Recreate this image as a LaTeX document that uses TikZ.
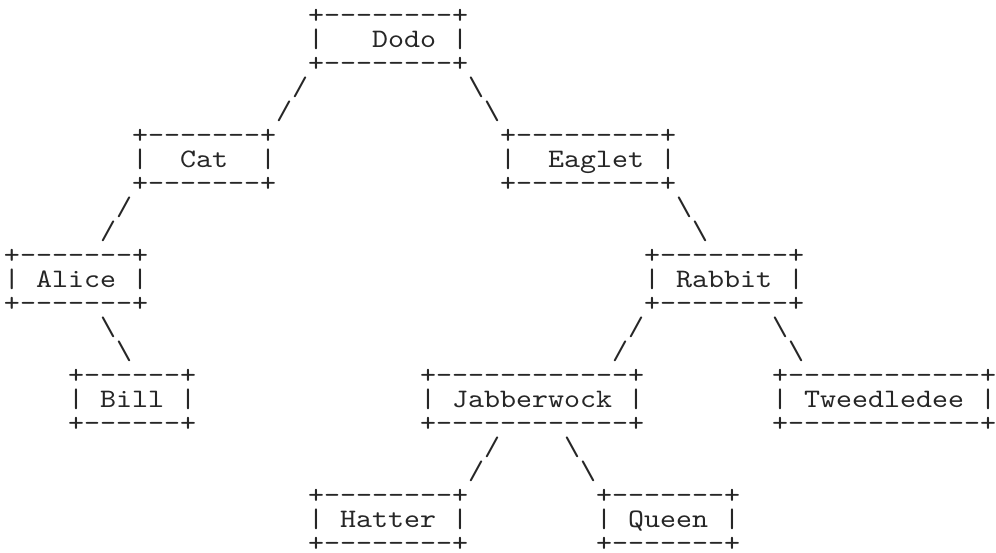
\documentclass[tikz,border=0pt]{standalone}
\usepackage{fontspec}
\newfontfamily\asciifont{lmmono10-regular.otf}[FakeStretch=1.1429]
\tikzset{
  ascii/.style={font=\asciifont\fontsize{26.667pt}{24pt}\selectfont, inner sep=0pt, outer sep=0pt, anchor=base west, text=black!85},
}
\begin{document}
\begin{tikzpicture}[x=16pt, y=-24pt]
\useasboundingbox (0,0) rectangle (62.25,23);
\begin{scope}[shift={(0.25,0.9583)}]
% Dodo
\node[ascii] (dodoT) at (19,0) {+--------+};
\node[ascii] (dodo)  at (19,1) {|~~~Dodo~|};
\node[ascii] (dodoB) at (19,2) {+--------+};
\node[ascii] (e1a) at (18,3) {/};
\node[ascii] (e2a) at (29,3) {\textbackslash};
\node[ascii] (e1b) at (17,4) {/};
\node[ascii] (e2b) at (30,4) {\textbackslash};
% Cat, Eaglet
\node[ascii] (catT) at (8,5) {+-------+};
\node[ascii] (cat)  at (8,6) {|~~Cat~~|};
\node[ascii] (catB) at (8,7) {+-------+};
\node[ascii] (eagT) at (31,5) {+---------+};
\node[ascii] (eag)  at (31,6) {|~~Eaglet~|};
\node[ascii] (eagB) at (31,7) {+---------+};
\node[ascii] (e3a) at (7,8) {/};
\node[ascii] (e3b) at (6,9) {/};
\node[ascii] (e4a) at (42,8) {\textbackslash};
\node[ascii] (e4b) at (43,9) {\textbackslash};
% Alice, Rabbit
\node[ascii] (aliT) at (0,10) {+-------+};
\node[ascii] (ali)  at (0,11) {|~Alice~|};
\node[ascii] (aliB) at (0,12) {+-------+};
\node[ascii] (rabT) at (40,10) {+--------+};
\node[ascii] (rab)  at (40,11) {|~Rabbit~|};
\node[ascii] (rabB) at (40,12) {+--------+};
\node[ascii] (e5a) at (6,13) {\textbackslash};
\node[ascii] (e5b) at (7,14) {\textbackslash};
\node[ascii] (e6a) at (39,13) {/};
\node[ascii] (e6b) at (38,14) {/};
\node[ascii] (e7a) at (48,13) {\textbackslash};
\node[ascii] (e7b) at (49,14) {\textbackslash};
% Bill, Jabberwock, Tweedledee
\node[ascii] (billT) at (4,15) {+------+};
\node[ascii] (bill)  at (4,16) {|~Bill~|};
\node[ascii] (billB) at (4,17) {+------+};
\node[ascii] (jabT) at (26,15) {+------------+};
\node[ascii] (jab)  at (26,16) {|~Jabberwock~|};
\node[ascii] (jabB) at (26,17) {+------------+};
\node[ascii] (twT) at (48,15) {+------------+};
\node[ascii] (tw)  at (48,16) {|~Tweedledee~|};
\node[ascii] (twB) at (48,17) {+------------+};
\node[ascii] (e8a) at (30,18) {/};
\node[ascii] (e8b) at (29,19) {/};
\node[ascii] (e9a) at (35,18) {\textbackslash};
\node[ascii] (e9b) at (36,19) {\textbackslash};
% Hatter, Queen
\node[ascii] (hatT) at (19,20) {+--------+};
\node[ascii] (hat)  at (19,21) {|~Hatter~|};
\node[ascii] (hatB) at (19,22) {+--------+};
\node[ascii] (queT) at (37,20) {+-------+};
\node[ascii] (que)  at (37,21) {|~Queen~|};
\node[ascii] (queB) at (37,22) {+-------+};
\end{scope}
\end{tikzpicture}
\end{document}
